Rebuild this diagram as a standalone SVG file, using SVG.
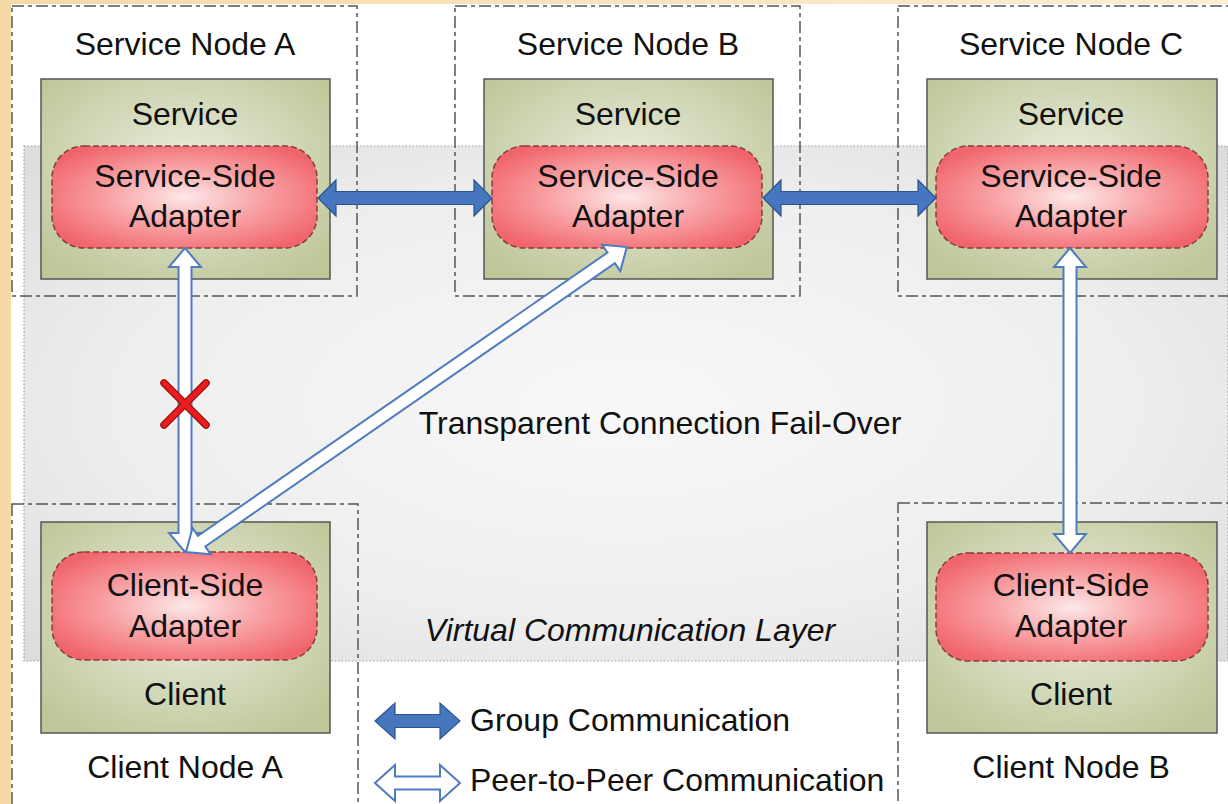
<svg xmlns="http://www.w3.org/2000/svg" width="1228" height="804" viewBox="0 0 1228 804">
<defs>
  <linearGradient id="beige" x1="0" y1="0" x2="1" y2="0">
    <stop offset="0" stop-color="#f7d9a8"/>
    <stop offset="1" stop-color="#fcedd3"/>
  </linearGradient>
  <radialGradient id="band" cx="0.5" cy="0.5" r="0.7">
    <stop offset="0" stop-color="#f8f8f8"/>
    <stop offset="0.6" stop-color="#eeeeee"/>
    <stop offset="1" stop-color="#dcdcdc"/>
  </radialGradient>
  <radialGradient id="green" cx="0.5" cy="0.45" r="0.65">
    <stop offset="0" stop-color="#eceedd"/>
    <stop offset="0.6" stop-color="#d0d7b6"/>
    <stop offset="1" stop-color="#bfc79a"/>
  </radialGradient>
  <radialGradient id="red" cx="0.5" cy="0.5" r="0.6">
    <stop offset="0" stop-color="#fde8e8"/>
    <stop offset="0.5" stop-color="#f8a0a3"/>
    <stop offset="1" stop-color="#f0646b"/>
  </radialGradient>
  <style>
    .lbl{font-family:"Liberation Sans",Arial,sans-serif;font-size:32px;fill:#111;text-anchor:middle}
    .leg{font-family:"Liberation Sans",Arial,sans-serif;font-size:32px;fill:#111}
    .node{fill:none;stroke:#555;stroke-width:1.5;stroke-dasharray:12,4,4,4}
    .box{fill:url(#green);stroke:#555;stroke-width:1.5}
    .ad{fill:url(#red);stroke:#8a3c3c;stroke-width:1.5;stroke-dasharray:6,3}
    .grp{fill:#4677be;stroke:#2b5590;stroke-width:1.2}
    .p2p{fill:#ffffff;stroke:#4f7cc0;stroke-width:2}
  </style>
</defs>
<rect x="0" y="0" width="1228" height="804" fill="url(#beige)"/>
<rect x="11" y="4" width="1217" height="800" fill="#ffffff"/>
<rect id="layer" x="24" y="146" width="1204" height="515" fill="url(#band)" stroke="#a0a0a0" stroke-width="1.2" stroke-dasharray="1.5,2"/>

<g id="serviceNodeA">
  <rect class="node" x="12" y="6" width="345" height="290"/>
  <text class="lbl" x="185" y="55">Service Node A</text>
  <rect class="box" x="41" y="79" width="289" height="200"/>
  <text class="lbl" x="185" y="125">Service</text>
  <rect class="ad" x="52" y="146" width="265" height="102" rx="32"/>
  <text class="lbl" x="185" y="187">Service-Side</text>
  <text class="lbl" x="185" y="227">Adapter</text>
</g>
<g id="serviceNodeB">
  <rect class="node" x="455" y="6" width="345" height="290"/>
  <text class="lbl" x="628" y="55">Service Node B</text>
  <rect class="box" x="484" y="79" width="289" height="200"/>
  <text class="lbl" x="628" y="125">Service</text>
  <rect class="ad" x="492" y="146" width="270" height="102" rx="32"/>
  <text class="lbl" x="628" y="187">Service-Side</text>
  <text class="lbl" x="628" y="227">Adapter</text>
</g>
<g id="serviceNodeC">
  <rect class="node" x="898" y="6" width="345" height="290"/>
  <text class="lbl" x="1071" y="55">Service Node C</text>
  <rect class="box" x="927" y="79" width="290" height="200"/>
  <text class="lbl" x="1071" y="125">Service</text>
  <rect class="ad" x="936" y="146" width="272" height="102" rx="32"/>
  <text class="lbl" x="1071" y="187">Service-Side</text>
  <text class="lbl" x="1071" y="227">Adapter</text>
</g>
<g id="clientNodeA">
  <rect class="node" x="12" y="504" width="346" height="320"/>
  <rect class="box" x="41" y="522" width="289" height="211"/>
  <rect class="ad" x="52" y="552" width="265" height="108" rx="32"/>
  <text class="lbl" x="185" y="596">Client-Side</text>
  <text class="lbl" x="185" y="637">Adapter</text>
  <text class="lbl" x="185" y="705">Client</text>
  <text class="lbl" x="185" y="778">Client Node A</text>
</g>
<g id="clientNodeB">
  <rect class="node" x="898" y="503" width="345" height="320"/>
  <rect class="box" x="927" y="522" width="290" height="211"/>
  <rect class="ad" x="936" y="553" width="272" height="108" rx="32"/>
  <text class="lbl" x="1071" y="596">Client-Side</text>
  <text class="lbl" x="1071" y="637">Adapter</text>
  <text class="lbl" x="1071" y="705">Client</text>
  <text class="lbl" x="1071" y="778">Client Node B</text>
</g>

<text id="failover" class="lbl" x="660" y="434">Transparent Connection Fail-Over</text>
<text id="vcl" class="lbl" x="630" y="641" font-style="italic">Virtual Communication Layer</text>

<g id="connectors">
  <path class="grp" d="M318,198 L336,180 L336,191.5 L474,191.5 L474,180 L492,198 L474,216 L474,204.5 L336,204.5 L336,216 Z"/>
  <path class="grp" d="M763,198 L781,180 L781,191.5 L918,191.5 L918,180 L936,198 L918,216 L918,204.5 L781,204.5 L781,216 Z"/>
  <path class="p2p" transform="translate(185,248) rotate(90)" d="M0,0 L19,-16 L19,-6.5 L285,-6.5 L285,-16 L304,0 L285,16 L285,6.5 L19,6.5 L19,16 Z"/>
  <path class="p2p" transform="translate(1070,248) rotate(90)" d="M0,0 L19,-16 L19,-6.5 L286,-6.5 L286,-16 L305,0 L286,16 L286,6.5 L19,6.5 L19,16 Z"/>
  <path class="p2p" transform="translate(186,552) rotate(-34.67)" d="M0,0 L19,-16 L19,-6.5 L517,-6.5 L517,-16 L536,0 L517,16 L517,6.5 L19,6.5 L19,16 Z"/>
  <g id="failX" stroke-linecap="round">
    <path d="M164,383 L206,425 M206,383 L164,425" stroke="#9a1010" stroke-width="7.5"/>
    <path d="M164,383 L206,425 M206,383 L164,425" stroke="#ee1c1c" stroke-width="5"/>
  </g>
</g>

<g id="legend">
  <path class="grp" d="M375,721 L395,703 L395,714.5 L440,714.5 L440,703 L460,721 L440,739 L440,727.5 L395,727.5 L395,739 Z"/>
  <text class="leg" x="470" y="731">Group Communication</text>
  <path class="p2p" d="M375,783 L395,765 L395,776.5 L440,776.5 L440,765 L460,783 L440,801 L440,789.5 L395,789.5 L395,801 Z"/>
  <text class="leg" x="470" y="791">Peer-to-Peer Communication</text>
</g>
</svg>
